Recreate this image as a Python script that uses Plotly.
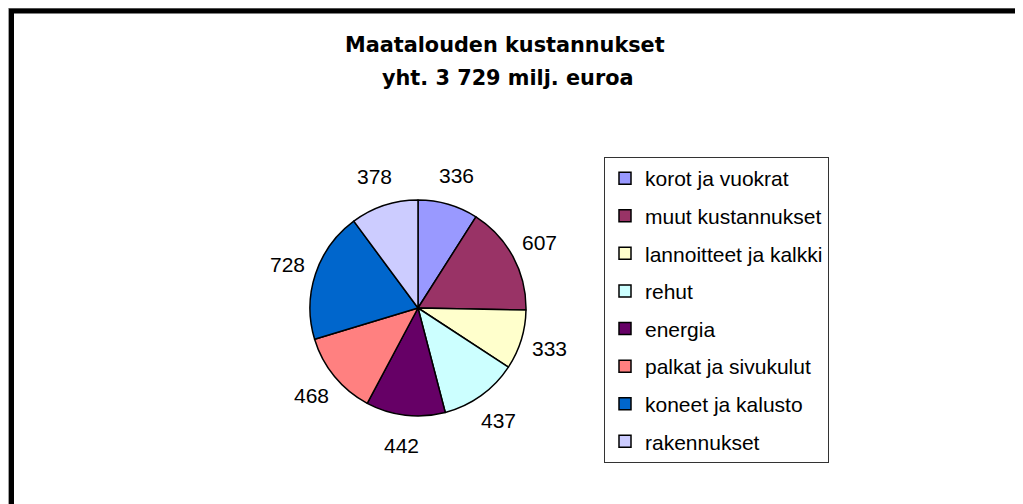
import numpy as np
import plotly.graph_objects as go

categories = ["korot ja vuokrat", "muut kustannukset", "lannoitteet ja kalkki", "rehut",
              "energia", "palkat ja sivukulut", "koneet ja kalusto", "rakennukset"]
values = [336, 607, 333, 437, 442, 468, 728, 378]
colors = ["#9999FF", "#993366", "#FFFFCC", "#CCFFFF", "#660066", "#FF8080", "#0066CC", "#CCCCFF"]
title_lines = ["Maatalouden kustannukset", "yht. 3 729 milj. euroa"]

W, H = 1023, 504
OFF = 8  # default page body margin
FONT = "Arial, Liberation Sans, sans-serif"

def px(x):
    return (x - OFF) / W

def py(y):
    return 1 - (y - OFF) / H

# pie geometry (screen pixels)
CX, CY, R = 418, 308, 108
LABEL_R = 138

fig = go.Figure()

fig.add_trace(go.Pie(
    labels=categories,
    values=values,
    sort=False,
    direction="clockwise",
    rotation=0,
    marker=dict(colors=colors, line=dict(color="black", width=1.5)),
    textinfo="none",
    showlegend=False,
    hoverinfo="label+value",
    domain=dict(x=[px(CX - R), px(CX + R)], y=[py(CY + R), py(CY - R)]),
))

for name, col in zip(categories, colors):
    fig.add_trace(go.Scatter(
        x=[None], y=[None], mode="markers", name=name, legendgroup=name,
        marker=dict(symbol="square", size=12, color=col, line=dict(color="black", width=1.5)),
    ))

# data labels at the mid-angle of each slice (clockwise from 12 o'clock)
vals = np.array(values, dtype=float)
mid = (np.cumsum(vals) - vals / 2) / vals.sum() * 2 * np.pi
annotations = []
for v, a in zip(values, mid):
    annotations.append(dict(
        text=str(v), x=px(CX + LABEL_R * np.sin(a)), y=py(CY - LABEL_R * np.cos(a)),
        xref="paper", yref="paper", showarrow=False, xanchor="center", yanchor="middle",
        font=dict(family=FONT, size=21, color="black")))

annotations += [
    dict(text="<b>%s</b>" % title_lines[0], x=px(505), y=py(45), xref="paper", yref="paper",
         showarrow=False, xanchor="center", yanchor="middle",
         font=dict(family="DejaVu Sans", size=20.8, color="black")),
    dict(text="<b>%s</b>" % title_lines[1], x=px(508), y=py(78), xref="paper", yref="paper",
         showarrow=False, xanchor="center", yanchor="middle",
         font=dict(family="DejaVu Sans", size=20.8, color="black")),
]

shapes = [
    dict(type="line", xref="paper", yref="paper", x0=px(8.5), x1=px(8.5), y0=py(8), y1=py(520),
         line=dict(color="#A0A0A0", width=1)),
    dict(type="line", xref="paper", yref="paper", x0=px(8), x1=px(1031), y0=py(8.5), y1=py(8.5),
         line=dict(color="#A0A0A0", width=1)),
    dict(type="line", xref="paper", yref="paper", x0=px(11.5), x1=px(11.5), y0=py(9), y1=py(520),
         line=dict(color="black", width=5)),
    dict(type="line", xref="paper", yref="paper", x0=px(9), x1=px(1022), y0=py(11), y1=py(11),
         line=dict(color="black", width=5)),
    dict(type="line", xref="paper", yref="paper", x0=px(1020.5), x1=px(1020.5), y0=py(9), y1=py(520),
         line=dict(color="black", width=2)),
]

fig.update_layout(
    width=W, height=H,
    margin=dict(l=0, r=0, t=0, b=0),
    paper_bgcolor="white", plot_bgcolor="white",
    xaxis=dict(visible=False), yaxis=dict(visible=False),
    shapes=shapes, annotations=annotations,
    legend=dict(x=px(604), y=py(157), xanchor="left", yanchor="top",
                bordercolor="#333333", borderwidth=1, bgcolor="white",
                font=dict(family=FONT, size=21, color="black"),
                tracegroupgap=7.3, itemclick=False),
)

fig.write_html("out.html")
